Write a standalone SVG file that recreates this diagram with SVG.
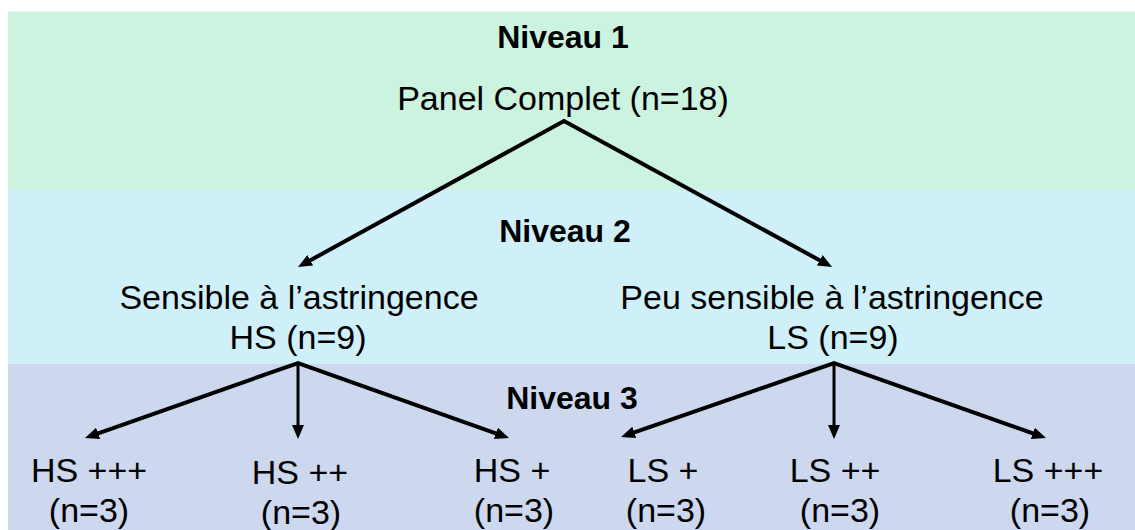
<svg xmlns="http://www.w3.org/2000/svg" width="1135" height="530" viewBox="0 0 1135 530">
<style>
.t{font-family:"Liberation Sans",Arial,sans-serif;font-size:34px;fill:#000;text-anchor:middle}
.h{font-family:"Liberation Sans",Arial,sans-serif;font-size:32px;font-weight:bold;fill:#000;text-anchor:middle}
.c{fill:none;stroke:#000;stroke-width:4;stroke-linejoin:miter;stroke-miterlimit:20}
.v{fill:none;stroke:#000;stroke-width:3}
</style>
<defs>
<marker id="ah" viewBox="0 0 14 12" refX="6" refY="6" markerWidth="14" markerHeight="12" markerUnits="userSpaceOnUse" orient="auto-start-reverse">
<path d="M0,0 L14,6 L0,12 Z" fill="#000"/>
</marker>
</defs>
<g id="bands">
<rect x="8" y="11" width="1127" height="179" fill="#CCF2E0"/>
<rect x="8" y="11" width="1127" height="1" fill="#E6F9F0"/>
<rect x="8" y="190" width="1127" height="174" fill="#CFF0F9"/>
<rect x="8" y="364" width="1127" height="166" fill="#CDD8EF"/>
</g>
<g id="levels">
<text class="h" x="563" y="48">Niveau 1</text>
<text class="h" x="565" y="242">Niveau 2</text>
<text class="h" x="572" y="409">Niveau 3</text>
</g>
<g id="connectors">
<path class="c" d="M305,263.2 L564,121 L825,263.2" marker-start="url(#ah)" marker-end="url(#ah)"/>
<path class="c" d="M92.5,435.3 L298,363 L501.5,435.3" marker-start="url(#ah)" marker-end="url(#ah)"/>
<path class="v" d="M298,363 L298,431" marker-end="url(#ah)"/>
<path class="c" d="M628.6,434.4 L834,363 L1038.5,435.3" marker-start="url(#ah)" marker-end="url(#ah)"/>
<path class="v" d="M834,363 L834,431" marker-end="url(#ah)"/>
</g>
<g id="panel">
<text class="t" x="563" y="110">Panel Complet (n=18)</text>
</g>
<g id="hs">
<text class="t" x="299" y="309">Sensible à l’astringence</text>
<text class="t" x="298" y="349">HS (n=9)</text>
</g>
<g id="ls">
<text class="t" x="832" y="309">Peu sensible à l’astringence</text>
<text class="t" x="833" y="349">LS (n=9)</text>
</g>
<g id="hs3">
<text class="t" x="89" y="482">HS +++</text>
<text class="t" x="89" y="522">(n=3)</text>
</g>
<g id="hs2">
<text class="t" x="300" y="484">HS ++</text>
<text class="t" x="301" y="524">(n=3)</text>
</g>
<g id="hs1">
<text class="t" x="512" y="482">HS +</text>
<text class="t" x="514" y="522">(n=3)</text>
</g>
<g id="ls1">
<text class="t" x="663" y="482">LS +</text>
<text class="t" x="666" y="522">(n=3)</text>
</g>
<g id="ls2">
<text class="t" x="835" y="482">LS ++</text>
<text class="t" x="840" y="522">(n=3)</text>
</g>
<g id="ls3">
<text class="t" x="1048" y="482">LS +++</text>
<text class="t" x="1050" y="522">(n=3)</text>
</g>
</svg>
